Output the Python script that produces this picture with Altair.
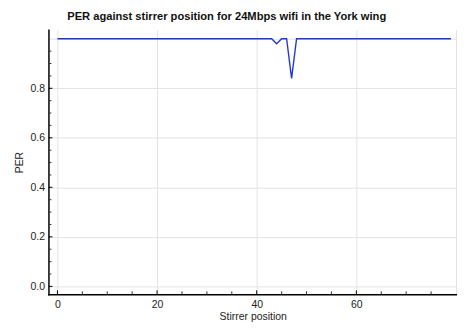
import altair as alt
import pandas as pd

# Data
positions = list(range(80))
per_values = [1.0, 1.0, 1.0, 1.0, 1.0, 1.0, 1.0, 1.0, 1.0, 1.0,
              1.0, 1.0, 1.0, 1.0, 1.0, 1.0, 1.0, 1.0, 1.0, 1.0,
              1.0, 1.0, 1.0, 1.0, 1.0, 1.0, 1.0, 1.0, 1.0, 1.0,
              1.0, 1.0, 1.0, 1.0, 1.0, 1.0, 1.0, 1.0, 1.0, 1.0,
              1.0, 1.0, 1.0, 1.0, 0.98, 1.0, 1.0, 0.84, 1.0, 1.0,
              1.0, 1.0, 1.0, 1.0, 1.0, 1.0, 1.0, 1.0, 1.0, 1.0,
              1.0, 1.0, 1.0, 1.0, 1.0, 1.0, 1.0, 1.0, 1.0, 1.0,
              1.0, 1.0, 1.0, 1.0, 1.0, 1.0, 1.0, 1.0, 1.0, 1.0]

x_grid = [0, 20, 40, 60, 80]
x_major = [0, 20, 40, 60]
x_minor = [5, 10, 15, 25, 30, 35, 45, 50, 55, 65, 70, 75]
y_major = [0, 0.2, 0.4, 0.6, 0.8]
y_grid = [0, 0.2, 0.4, 0.6, 0.8, 1.0]
y_minor = [0.05, 0.1, 0.15, 0.25, 0.3, 0.35, 0.45, 0.5, 0.55, 0.65, 0.7, 0.75, 0.85, 0.9, 0.95]

title_text = "PER against stirrer position for 24Mbps wifi in the York wing"
x_title = "Stirrer position"
y_title = "PER"

W, H = 414, 268
FONT = "Liberation Sans"
FS = 10.6

df = pd.DataFrame({"pos": positions, "per": per_values})
xscale = alt.Scale(domain=[-1.8, 80.2], nice=False, zero=False)
yscale = alt.Scale(domain=[-0.032, 1.036], nice=False, zero=False)

line = alt.Chart(df).mark_line(color="#2338d0", strokeWidth=1.4, clip=True).encode(
    x=alt.X("pos:Q", scale=xscale, title=x_title,
            axis=alt.Axis(values=x_grid, grid=True, gridColor="#e3e3e3", gridWidth=1,
                          ticks=False, labelPadding=5, titlePadding=2,
                          labelExpr="datum.value >= 79 ? '' : datum.label",
                          domainColor="#000000", domainWidth=1.5,
                          labelFont=FONT, labelFontSize=FS, labelColor="#222222",
                          titleFont=FONT, titleFontSize=FS, titleFontWeight="normal",
                          titleColor="#222222")),
    y=alt.Y("per:Q", scale=yscale, title=y_title,
            axis=alt.Axis(values=y_grid, grid=True, gridColor="#e3e3e3", gridWidth=1,
                          ticks=False, labelPadding=4, titlePadding=6,
                          labelExpr="datum.value >= 0.99 ? '' : datum.label",
                          domainColor="#000000", domainWidth=1.5,
                          labelFont=FONT, labelFontSize=FS, labelColor="#222222",
                          titleFont=FONT, titleFontSize=FS, titleFontWeight="normal",
                          titleColor="#222222")),
)

xmaj = alt.Chart(pd.DataFrame({"v": x_major})).mark_rule(color="#000000", strokeWidth=1).encode(
    x=alt.X("v:Q", scale=xscale), y=alt.value(H), y2=alt.value(H - 4))
xmin = alt.Chart(pd.DataFrame({"v": x_minor})).mark_rule(color="#333333", strokeWidth=1).encode(
    x=alt.X("v:Q", scale=xscale), y=alt.value(H), y2=alt.value(H - 3))
ymaj = alt.Chart(pd.DataFrame({"v": y_major})).mark_rule(color="#000000", strokeWidth=1).encode(
    y=alt.Y("v:Q", scale=yscale), x=alt.value(0), x2=alt.value(4))
ymin = alt.Chart(pd.DataFrame({"v": y_minor})).mark_rule(color="#333333", strokeWidth=1).encode(
    y=alt.Y("v:Q", scale=yscale), x=alt.value(0), x2=alt.value(3))

chart = alt.layer(line, xmaj, xmin, ymaj, ymin).properties(
    width=W, height=H,
    title=alt.TitleParams(title_text, anchor="start", frame="group", dx=19, offset=8,
                          font=FONT, fontSize=11.3, fontWeight="bold", color="#111111"),
    autosize=alt.AutoSizeParams(type="none"),
    padding={"left": 41, "top": 20, "right": 0, "bottom": 32},
).configure_view(stroke=None).configure_axis(domainCap="square")

chart.save("out.html", embed_options={"renderer": "svg", "actions": False})
